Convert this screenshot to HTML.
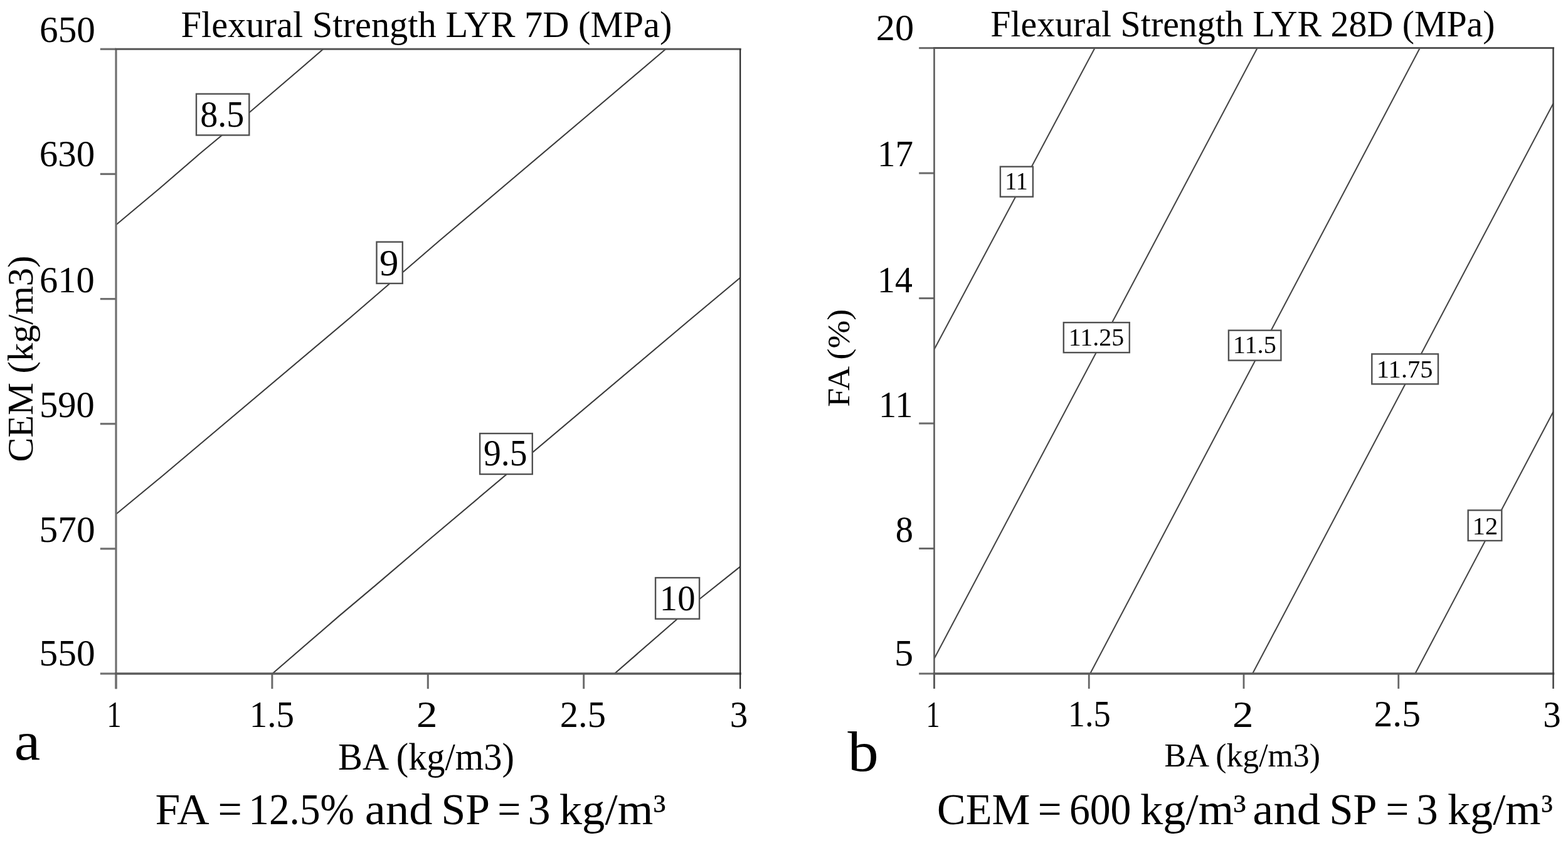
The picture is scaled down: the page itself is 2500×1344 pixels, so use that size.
<!DOCTYPE html>
<html><head><meta charset="utf-8"><title>Flexural Strength LYR contour plots</title>
<style>
html,body{margin:0;padding:0;background:#fff;}
svg{display:block;}
text{font-family:"Liberation Serif","Times New Roman",serif;fill:#000;}
</style></head>
<body>
<svg width="2500" height="1344" viewBox="0 0 2500 1344">
<rect width="2500" height="1344" fill="#fff"/>
<polyline points="185.0,358.5 254.9,300.0 320.0,243.8 400.0,177.3 478.6,110.0 515.3,78.3" fill="none" stroke="#3a3a3a" stroke-width="2.1" stroke-linejoin="round"/>
<polyline points="185.0,819.8 257.5,760.0 560.0,505.0 700.0,384.2 820.0,282.7 940.0,181.3 1061.4,78.3" fill="none" stroke="#3a3a3a" stroke-width="2.1" stroke-linejoin="round"/>
<polyline points="434.3,1074.0 540.0,982.6 600.0,932.1 684.6,860.0 1100.0,509.7 1180.2,442.7" fill="none" stroke="#3a3a3a" stroke-width="2.1" stroke-linejoin="round"/>
<polyline points="979.8,1074.0 1078.8,987.8 1115.1,955.3 1180.2,903.4" fill="none" stroke="#3a3a3a" stroke-width="2.1" stroke-linejoin="round"/>
<g fill="none" stroke-linecap="butt">
<line x1="159.8" y1="78.30" x2="185.0" y2="78.30" stroke="#707070" stroke-width="3.2"/>
<line x1="159.8" y1="277.44" x2="185.0" y2="277.44" stroke="#707070" stroke-width="3.2"/>
<line x1="159.8" y1="476.58" x2="185.0" y2="476.58" stroke="#707070" stroke-width="3.2"/>
<line x1="159.8" y1="675.72" x2="185.0" y2="675.72" stroke="#707070" stroke-width="3.2"/>
<line x1="159.8" y1="874.86" x2="185.0" y2="874.86" stroke="#707070" stroke-width="3.2"/>
<line x1="159.8" y1="1074.00" x2="185.0" y2="1074.00" stroke="#707070" stroke-width="3.2"/>
<line x1="185.00" y1="1074.0" x2="185.00" y2="1098.2" stroke="#6a6a6a" stroke-width="3.0"/>
<line x1="433.90" y1="1074.0" x2="433.90" y2="1098.2" stroke="#6a6a6a" stroke-width="3.0"/>
<line x1="682.30" y1="1074.0" x2="682.30" y2="1098.2" stroke="#6a6a6a" stroke-width="3.0"/>
<line x1="930.70" y1="1074.0" x2="930.70" y2="1098.2" stroke="#6a6a6a" stroke-width="3.0"/>
<line x1="185.0" y1="78.3" x2="185.0" y2="1098.2" stroke="#707070" stroke-width="3.2"/>
<line x1="185.0" y1="78.3" x2="1180.2" y2="78.3" stroke="#555" stroke-width="3.0" stroke-linecap="square"/>
<line x1="185.0" y1="1074.0" x2="1180.2" y2="1074.0" stroke="#5a5a5a" stroke-width="3.4" stroke-linecap="square"/>
<line x1="1180.2" y1="78.3" x2="1180.2" y2="1098.2" stroke="#262626" stroke-width="2.2"/>
</g>
<rect x="313.0" y="149.7" width="84.3" height="65.8" fill="#fff" stroke="#505050" stroke-width="2.4"/>
<rect x="600.5" y="385.7" width="41.3" height="66.2" fill="#fff" stroke="#505050" stroke-width="2.4"/>
<rect x="765.1" y="691.1" width="83.7" height="64.9" fill="#fff" stroke="#505050" stroke-width="2.4"/>
<rect x="1045.1" y="921.1" width="70.0" height="65.6" fill="#fff" stroke="#505050" stroke-width="2.4"/>
<text x="319.17" y="202.48" font-size="58.5" textLength="70.12" lengthAdjust="spacingAndGlyphs">8.5</text>
<text x="604.95" y="439.30" font-size="60" textLength="30.44" lengthAdjust="spacingAndGlyphs">9</text>
<text x="771.02" y="742.17" font-size="59" textLength="69.55" lengthAdjust="spacingAndGlyphs">9.5</text>
<text x="1051.81" y="972.72" font-size="57.5" textLength="56.75" lengthAdjust="spacingAndGlyphs">10</text>
<text x="63.05" y="66.61" font-size="59" textLength="88.79" lengthAdjust="spacingAndGlyphs">650</text>
<text x="62.76" y="265.31" font-size="59" textLength="88.48" lengthAdjust="spacingAndGlyphs">630</text>
<text x="63.08" y="465.91" font-size="59" textLength="87.74" lengthAdjust="spacingAndGlyphs">610</text>
<text x="63.11" y="665.01" font-size="59" textLength="87.71" lengthAdjust="spacingAndGlyphs">590</text>
<text x="62.55" y="864.01" font-size="59" textLength="89.10" lengthAdjust="spacingAndGlyphs">570</text>
<text x="62.55" y="1061.41" font-size="59" textLength="89.10" lengthAdjust="spacingAndGlyphs">550</text>
<text x="170.28" y="1159.40" font-size="60" textLength="23.44" lengthAdjust="spacingAndGlyphs">1</text>
<text x="397.78" y="1158.56" font-size="60" textLength="71.24" lengthAdjust="spacingAndGlyphs">1.5</text>
<text x="663.95" y="1159.40" font-size="60" textLength="33.54" lengthAdjust="spacingAndGlyphs">2</text>
<text x="892.82" y="1158.56" font-size="60" textLength="73.16" lengthAdjust="spacingAndGlyphs">2.5</text>
<text x="1163.66" y="1158.80" font-size="60" textLength="28.57" lengthAdjust="spacingAndGlyphs">3</text>
<text x="288.41" y="59.10" font-size="59.5" textLength="782.99" lengthAdjust="spacingAndGlyphs">Flexural Strength LYR 7D (MPa)</text>
<text x="539.11" y="1227.00" font-size="60.5" textLength="280.85" lengthAdjust="spacingAndGlyphs">BA (kg/m3)</text>
<text x="0" y="0" font-size="57.5" textLength="329.04" lengthAdjust="spacingAndGlyphs" transform="translate(52.20,736.59) rotate(-90)">CEM (kg/m3)</text>
<text x="22.83" y="1211.14" font-size="86" textLength="41.46" lengthAdjust="spacingAndGlyphs">a</text>
<g>
<text x="247.63" y="1313.80" font-size="70" textLength="86.08" lengthAdjust="spacingAndGlyphs">FA</text>
<text x="347.50" y="1313.80" font-size="70" textLength="38.33" lengthAdjust="spacingAndGlyphs">=</text>
<text x="396.36" y="1313.80" font-size="70" textLength="168.46" lengthAdjust="spacingAndGlyphs">12.5%</text>
<text x="581.89" y="1313.80" font-size="70" textLength="107.49" lengthAdjust="spacingAndGlyphs">and</text>
<text x="703.53" y="1313.80" font-size="70" textLength="77.59" lengthAdjust="spacingAndGlyphs">SP</text>
<text x="793.31" y="1313.80" font-size="70" textLength="37.11" lengthAdjust="spacingAndGlyphs">=</text>
<text x="841.42" y="1313.80" font-size="70" textLength="36.20" lengthAdjust="spacingAndGlyphs">3</text>
<text x="891.72" y="1313.80" font-size="70" textLength="149.52" lengthAdjust="spacingAndGlyphs">kg/m</text>
<text x="1041.81" y="1311.95" font-size="65.3" textLength="19.83" lengthAdjust="spacingAndGlyphs">³</text>
</g>
<polyline points="1489.5,557.0 1745.6,76.6" fill="none" stroke="#464646" stroke-width="2.1" stroke-linejoin="round"/>
<polyline points="1489.5,1050.0 2004.7,76.6" fill="none" stroke="#464646" stroke-width="2.1" stroke-linejoin="round"/>
<polyline points="1738.1,1074.0 2263.9,76.6" fill="none" stroke="#464646" stroke-width="2.1" stroke-linejoin="round"/>
<polyline points="1997.0,1074.0 2476.5,164.9" fill="none" stroke="#464646" stroke-width="2.1" stroke-linejoin="round"/>
<polyline points="2256.3,1074.0 2476.5,656.5" fill="none" stroke="#464646" stroke-width="2.1" stroke-linejoin="round"/>
<g fill="none" stroke-linecap="butt">
<line x1="1465.2" y1="76.60" x2="1489.5" y2="76.60" stroke="#6a6a6a" stroke-width="3.0"/>
<line x1="1465.2" y1="276.08" x2="1489.5" y2="276.08" stroke="#6a6a6a" stroke-width="3.0"/>
<line x1="1465.2" y1="475.56" x2="1489.5" y2="475.56" stroke="#6a6a6a" stroke-width="3.0"/>
<line x1="1465.2" y1="675.04" x2="1489.5" y2="675.04" stroke="#6a6a6a" stroke-width="3.0"/>
<line x1="1465.2" y1="874.52" x2="1489.5" y2="874.52" stroke="#6a6a6a" stroke-width="3.0"/>
<line x1="1465.2" y1="1074.00" x2="1489.5" y2="1074.00" stroke="#6a6a6a" stroke-width="3.0"/>
<line x1="1489.50" y1="1074.0" x2="1489.50" y2="1098.0" stroke="#666" stroke-width="2.8"/>
<line x1="1736.25" y1="1074.0" x2="1736.25" y2="1098.0" stroke="#666" stroke-width="2.8"/>
<line x1="1983.00" y1="1074.0" x2="1983.00" y2="1098.0" stroke="#666" stroke-width="2.8"/>
<line x1="2229.75" y1="1074.0" x2="2229.75" y2="1098.0" stroke="#666" stroke-width="2.8"/>
<line x1="1489.5" y1="76.6" x2="1489.5" y2="1098.0" stroke="#5a5a5a" stroke-width="2.6"/>
<line x1="1489.5" y1="76.6" x2="2476.5" y2="76.6" stroke="#555" stroke-width="3.0" stroke-linecap="square"/>
<line x1="1489.5" y1="1074.0" x2="2476.5" y2="1074.0" stroke="#5a5a5a" stroke-width="3.4" stroke-linecap="square"/>
<line x1="2476.5" y1="76.6" x2="2476.5" y2="1098.0" stroke="#383838" stroke-width="2.4"/>
</g>
<rect x="1594.9" y="265.7" width="52.0" height="48.0" fill="#fff" stroke="#505050" stroke-width="2.4"/>
<rect x="1695.8" y="514.2" width="105.0" height="47.9" fill="#fff" stroke="#505050" stroke-width="2.4"/>
<rect x="1958.9" y="526.7" width="83.5" height="47.9" fill="#fff" stroke="#505050" stroke-width="2.4"/>
<rect x="2187.3" y="564.4" width="105.7" height="47.9" fill="#fff" stroke="#505050" stroke-width="2.4"/>
<rect x="2340.7" y="813.5" width="53.6" height="48.5" fill="#fff" stroke="#505050" stroke-width="2.4"/>
<text x="1602.26" y="302.40" font-size="41" textLength="36.51" lengthAdjust="spacingAndGlyphs">11</text>
<text x="1703.68" y="551.34" font-size="40" textLength="88.47" lengthAdjust="spacingAndGlyphs">11.25</text>
<text x="1965.75" y="563.44" font-size="40.5" textLength="69.12" lengthAdjust="spacingAndGlyphs">11.5</text>
<text x="2194.83" y="601.84" font-size="40" textLength="89.75" lengthAdjust="spacingAndGlyphs">11.75</text>
<text x="2347.85" y="851.60" font-size="40" textLength="40.37" lengthAdjust="spacingAndGlyphs">12</text>
<text x="1396.84" y="64.21" font-size="59" textLength="60.46" lengthAdjust="spacingAndGlyphs">20</text>
<text x="1398.98" y="264.60" font-size="59" textLength="57.08" lengthAdjust="spacingAndGlyphs">17</text>
<text x="1399.09" y="465.50" font-size="59" textLength="55.80" lengthAdjust="spacingAndGlyphs">14</text>
<text x="1401.03" y="664.60" font-size="59" textLength="54.35" lengthAdjust="spacingAndGlyphs">11</text>
<text x="1427.85" y="863.61" font-size="59" textLength="28.30" lengthAdjust="spacingAndGlyphs">8</text>
<text x="1426.00" y="1060.71" font-size="59" textLength="30.15" lengthAdjust="spacingAndGlyphs">5</text>
<text x="1476.50" y="1159.20" font-size="59.5" textLength="22.16" lengthAdjust="spacingAndGlyphs">1</text>
<text x="1702.70" y="1158.37" font-size="59.5" textLength="68.12" lengthAdjust="spacingAndGlyphs">1.5</text>
<text x="1965.05" y="1159.20" font-size="59.5" textLength="33.54" lengthAdjust="spacingAndGlyphs">2</text>
<text x="2190.48" y="1158.37" font-size="59.5" textLength="74.44" lengthAdjust="spacingAndGlyphs">2.5</text>
<text x="2460.37" y="1158.61" font-size="59.5" textLength="28.45" lengthAdjust="spacingAndGlyphs">3</text>
<text x="1579.32" y="57.60" font-size="59.5" textLength="804.25" lengthAdjust="spacingAndGlyphs">Flexural Strength LYR 28D (MPa)</text>
<text x="1856.40" y="1221.50" font-size="53" textLength="248.46" lengthAdjust="spacingAndGlyphs">BA (kg/m3)</text>
<text x="0" y="0" font-size="51.5" textLength="155.72" lengthAdjust="spacingAndGlyphs" transform="translate(1354.30,648.66) rotate(-90)">FA (%)</text>
<text x="1351.40" y="1228.50" font-size="90" textLength="49.35" lengthAdjust="spacingAndGlyphs">b</text>
<g>
<text x="1493.99" y="1313.80" font-size="70" textLength="148.39" lengthAdjust="spacingAndGlyphs">CEM</text>
<text x="1654.65" y="1313.80" font-size="70" textLength="37.84" lengthAdjust="spacingAndGlyphs">=</text>
<text x="1704.88" y="1313.80" font-size="70" textLength="98.52" lengthAdjust="spacingAndGlyphs">600</text>
<text x="1818.02" y="1313.80" font-size="70" textLength="149.01" lengthAdjust="spacingAndGlyphs">kg/m</text>
<text x="1966.58" y="1311.95" font-size="65.3" textLength="20.29" lengthAdjust="spacingAndGlyphs">³</text>
<text x="1997.39" y="1313.80" font-size="70" textLength="107.49" lengthAdjust="spacingAndGlyphs">and</text>
<text x="2119.43" y="1313.80" font-size="70" textLength="75.93" lengthAdjust="spacingAndGlyphs">SP</text>
<text x="2209.44" y="1313.80" font-size="70" textLength="36.75" lengthAdjust="spacingAndGlyphs">=</text>
<text x="2258.19" y="1313.80" font-size="70" textLength="34.50" lengthAdjust="spacingAndGlyphs">3</text>
<text x="2307.93" y="1313.80" font-size="70" textLength="148.71" lengthAdjust="spacingAndGlyphs">kg/m</text>
<text x="2457.62" y="1311.95" font-size="65.3" textLength="18.33" lengthAdjust="spacingAndGlyphs">³</text>
</g>
</svg>
</body></html>
